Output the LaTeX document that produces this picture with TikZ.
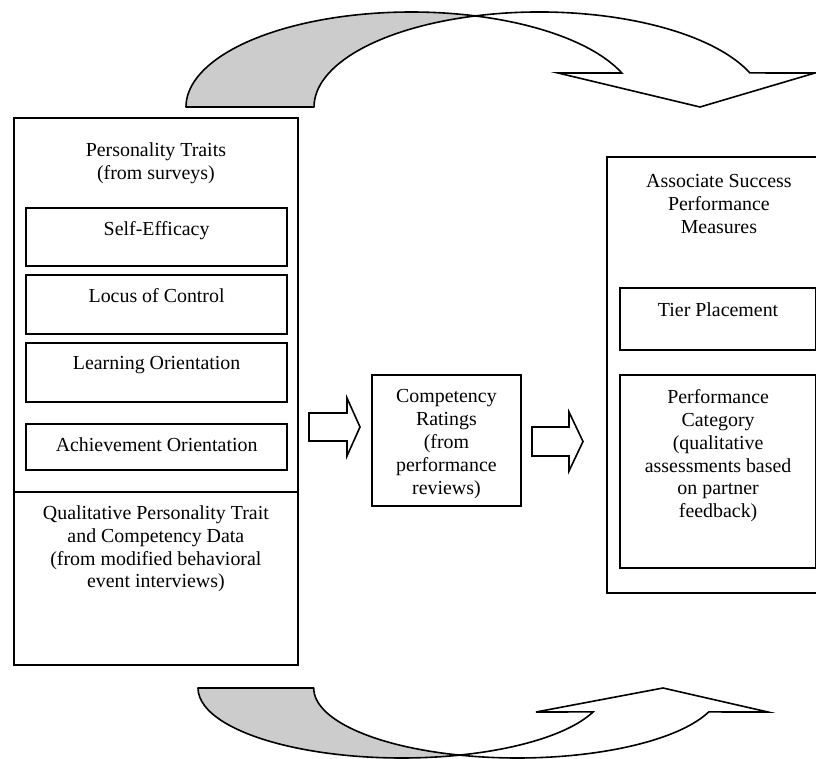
\documentclass[tikz,border=0pt]{standalone}
\usepackage{fontspec}
\setmainfont{Liberation Serif}
\usetikzlibrary{positioning}

\tikzset{
  frame/.style={draw, line width=1.8pt, inner sep=0pt, anchor=north west},
  item/.style={draw, line width=2.2pt, inner sep=0pt, anchor=north west},
  txt/.style={align=center, inner sep=0pt, font=\fontsize{19.9}{22.8}\selectfont},
  ribbon/.style={draw, line width=1.6pt, fill=black!20, line join=round},
  hollow/.style={draw, line width=1.6pt, fill=white, line join=miter},
}

\begin{document}
\begin{tikzpicture}[x=1pt, y=-1pt]
\clip (0,0) rectangle (816,759);

% left column
\node[frame, minimum width=284pt, minimum height=374pt] (traits) at (13,117) {};
\node[frame, minimum width=284pt, minimum height=173pt] (interviews) at (13,491) {};
\node[item, minimum width=261pt, minimum height=58pt] (self) at (25,207) {};
\node[item, minimum width=261pt, minimum height=59pt] (locus) at (25,274) {};
\node[item, minimum width=261pt, minimum height=59pt] (learning) at (25,342) {};
\node[item, minimum width=261pt, minimum height=46pt] (achieve) at (25,423) {};

\node[txt, below=25.5pt of traits.north] (traitsT) {Personality Traits\\(from surveys)};
\node[txt, below=14.5pt of self.north] (selfT) {Self-Efficacy};
\node[txt, below=14.5pt of locus.north] (locusT) {Locus of Control};
\node[txt, below=14.5pt of learning.north] (learningT) {Learning Orientation};
\node[txt, below=14.5pt of achieve.north] (achieveT) {Achievement Orientation};
\node[txt, below=14.5pt of interviews.north] (interviewsT) {Qualitative Personality Trait\\and Competency Data\\(from modified behavioral\\event interviews)};

% middle
\node[item, line width=1.8pt, minimum width=149pt, minimum height=131pt] (ratings) at (371,374) {};
\node[txt, below=15.5pt of ratings.north] (ratingsT) {Competency\\Ratings\\(from\\performance\\reviews)};

% right column
\node[frame, minimum width=224pt, minimum height=436pt] (measures) at (606,156) {};
\node[item, minimum width=196pt, minimum height=62pt] (tier) at (619,287) {};
\node[item, minimum width=196pt, minimum height=193pt] (category) at (619,374) {};

\node[txt, below=18.5pt of measures.north] (measuresT) {Associate Success\\Performance\\Measures};
\node[txt, below=15.5pt of tier.north] (tierT) {Tier Placement};
\node[txt, below=15.5pt of category.north] (categoryT) {Performance\\Category\\(qualitative\\assessments based\\on partner\\feedback)};

% block arrows
\draw[hollow] (309,413) -- (347,413) -- (347,398) -- (360,427) -- (347,456) -- (347,441) -- (309,441) -- cycle;
\draw[hollow] (532,427) -- (569,427) -- (569,412) -- (583,441.5) -- (569,471) -- (569,456) -- (532,456) -- cycle;

% curved arrow, top
\draw[hollow] (475.4,15.9) arc[start angle=253.5, end angle=339, x radius=225.4, y radius=95]
  -- (815,73) -- (700,107) -- (558,73) -- (621.8,73)
  arc[start angle=339, end angle=286.5, x radius=225.4, y radius=95] -- cycle;
\draw[ribbon] (186,107) arc[start angle=180, end angle=286.5, x radius=225.4, y radius=95]
  arc[start angle=253.5, end angle=180, x radius=225.4, y radius=95] -- cycle;

% curved arrow, bottom
\draw[hollow] (459.5,755.1) arc[start angle=106.5, end angle=20, x radius=203.7, y radius=70]
  -- (768,712) -- (663,688) -- (536,712) -- (593.1,711.9)
  arc[start angle=20, end angle=73.5, x radius=203.7, y radius=70] -- cycle;
\draw[ribbon] (198,688) arc[start angle=180, end angle=73.5, x radius=203.7, y radius=70]
  arc[start angle=106.5, end angle=180, x radius=203.7, y radius=70] -- cycle;
\end{tikzpicture}
\end{document}
